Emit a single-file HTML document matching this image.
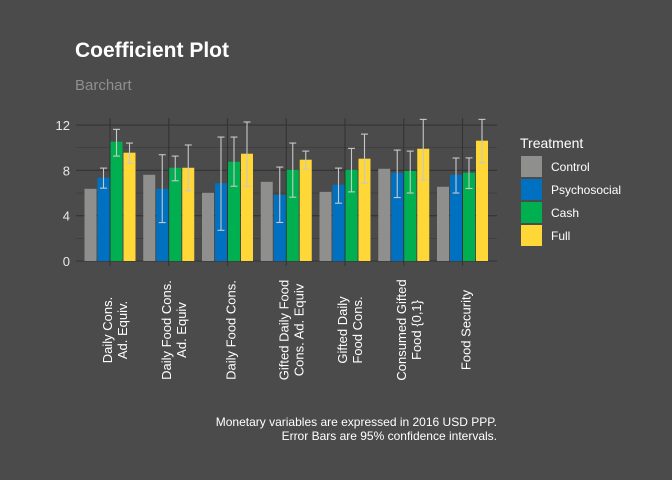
<!DOCTYPE html>
<html><head><meta charset="utf-8"><style>
body{margin:0;background:#4b4b4b;}
svg{display:block;font-family:"Liberation Sans",Arial,sans-serif;}
</style></head><body>
<svg id="chart" width="672" height="480" viewBox="0 0 672 480">
<rect x="0" y="0" width="672" height="480" fill="#4b4b4b"/>
<text x="75" y="57" font-size="21" font-weight="bold" fill="#ffffff">Coefficient Plot</text>
<text x="75" y="90" font-size="15" fill="#8f8f8f">Barchart</text>
<g id="grid"></g><g id="bars"></g><g id="axes"></g>
<g id="legend">
<text x="520" y="148" font-size="14" fill="#ffffff">Treatment</text>
</g>
<text x="497" y="426" font-size="12" fill="#ffffff" text-anchor="end">Monetary variables are expressed in 2016 USD PPP.</text>
<text x="497" y="440" font-size="12" fill="#ffffff" text-anchor="end">Error Bars are 95% confidence intervals.</text>
</svg>
<script>
const categories=[["Daily Cons.","Ad. Equiv."],["Daily Food Cons.","Ad. Equiv"],["Daily Food Cons."],["Gifted Daily Food","Cons. Ad. Equiv"],["Gifted Daily","Food Cons."],["Consumed Gifted","Food {0,1}"],["Food Security"]];
const seriesNames=["Control","Psychosocial","Cash","Full"];
const control=[6.37,7.61,6.02,6.99,6.1,8.14,6.55];
const psych=[7.35,6.37,6.87,5.84,6.73,7.79,7.61];
const psychLo=[6.43,3.39,2.71,3.4,5.1,5.6,6.0];
const psychHi=[8.2,9.38,10.94,8.29,8.2,9.79,9.09];
const cash=[10.53,8.23,8.76,8.05,8.05,7.96,7.79];
const cashLo=[9.26,7.08,6.6,5.63,6.1,6.0,6.4];
const cashHi=[11.62,9.26,10.94,10.41,9.94,9.7,9.1];
const full=[9.56,8.23,9.47,8.94,9.03,9.91,10.62];
const fullLo=[8.61,6.19,6.6,8.11,6.87,7.14,8.67];
const fullHi=[10.41,10.24,12.27,9.7,11.2,12.5,12.5];
const yTicks=[0,4,8,12];
const yMinor=[2,6,10];

const colors=["#8f908d","#0070c0","#00b050","#ffd737"];
const NS="http://www.w3.org/2000/svg";
const X0=76,X1=497;
function yS(v){return 261-v*11.33;}
function xS(i){return 110+i*58.75;}
function mk(tag,attrs,parent){const e=document.createElementNS(NS,tag);for(const k in attrs)e.setAttribute(k,attrs[k]);parent.appendChild(e);return e;}
const grid=document.getElementById('grid'),bars=document.getElementById('bars'),axes=document.getElementById('axes'),legend=document.getElementById('legend');
yMinor.forEach(v=>{const l=mk('line',{x1:X0,x2:X1,y1:yS(v),y2:yS(v),stroke:'#3a3a3a','stroke-width':0.6},grid);

});
yTicks.forEach(v=>{const l=mk('line',{x1:X0,x2:X1,y1:yS(v),y2:yS(v),stroke:'#333333','stroke-width':1.1},grid);


const t=mk('text',{x:70,y:yS(v)+5,'font-size':13,fill:'#e8e8e8','text-anchor':'end'},axes);t.textContent=v;

});
categories.forEach((c,i)=>{const x=xS(i);
const l=mk('line',{x1:x,x2:x,y1:yS(12.6),y2:266,stroke:'#333333','stroke-width':1.1},grid);


const t=mk('text',{transform:`translate(${x},330) rotate(-90)`,'font-size':13,fill:'#ffffff','text-anchor':'middle'},axes);


const offs=c.length===1?[8]:[2,17];
c.forEach((line,j)=>{const s=mk('tspan',{x:0,y:offs[j]},t);s.textContent=line;});
});
const vals=[control,psych,cash,full],los=[null,psychLo,cashLo,fullLo],his=[null,psychHi,cashHi,fullHi];
categories.forEach((c,i)=>{const cx=xS(i);
vals.forEach((arr,s)=>{const bx=cx-25.5+s*13;
const r=mk('rect',{x:bx,y:yS(arr[i]),width:12,height:yS(0)-yS(arr[i]),fill:colors[s]},bars);


if(los[s]){const m=bx+6,lo=yS(los[s][i]),hi=yS(his[s][i]);
const g=mk('g',{stroke:'#c8c8c8','stroke-width':1.1},bars);


mk('line',{x1:m,x2:m,y1:lo,y2:hi},g);mk('line',{x1:m-3.5,x2:m+3.5,y1:lo,y2:lo},g);mk('line',{x1:m-3.5,x2:m+3.5,y1:hi,y2:hi},g);}
});});
seriesNames.forEach((n,s)=>{const y=156+s*23;
const r=mk('rect',{x:521,y:y,width:21,height:21,fill:colors[s]},legend);


const t=mk('text',{x:551,y:y+15,'font-size':12,fill:'#ffffff'},legend);t.textContent=n;

});
</script>
</body></html>
